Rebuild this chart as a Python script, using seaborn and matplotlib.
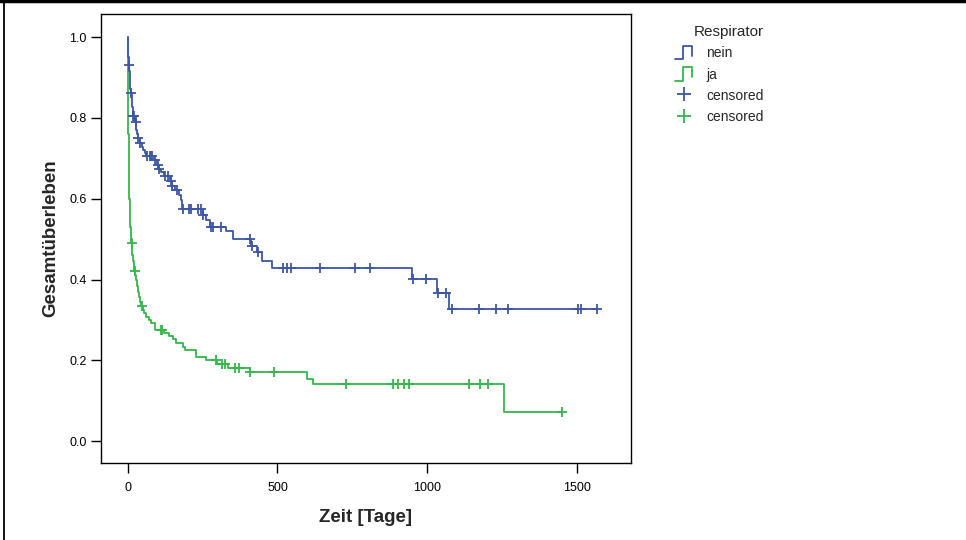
import numpy as np
import pandas as pd
import matplotlib
matplotlib.use("Agg")
import matplotlib.pyplot as plt
import seaborn as sns
from matplotlib.lines import Line2D
from matplotlib.legend_handler import HandlerBase

# ---------------- data ----------------
nein_times = [0, 0.2, 0.5, 1, 1.5, 2, 2.5, 4, 5.5, 7, 8.5, 10, 12, 13.5, 15, 16.5, 18,
              24, 28, 31, 33, 40, 46, 52, 58, 62, 88, 97, 104, 112, 120, 140, 146, 158,
              170, 176, 182, 250, 262, 274, 328, 351, 410, 431, 448, 482, 950, 1033, 1074]
nein_surv = [1.0, 0.99, 0.98, 0.965, 0.95, 0.94, 0.93, 0.915, 0.90, 0.885, 0.872, 0.861,
             0.85, 0.84, 0.826, 0.815, 0.804, 0.79, 0.77, 0.76, 0.75, 0.738, 0.728, 0.72,
             0.712, 0.705, 0.695, 0.683, 0.673, 0.665, 0.656, 0.645, 0.631, 0.621, 0.61,
             0.597, 0.574, 0.559, 0.547, 0.530, 0.52, 0.50, 0.484, 0.468, 0.446, 0.428,
             0.401, 0.366, 0.327]
nein_censored = [3, 10.5, 18.5, 22, 26, 34, 41, 63, 73, 77, 80, 89, 99, 105, 124, 134, 143,
                 148, 163, 184, 204, 211, 234, 244, 252, 278, 284, 311, 408, 415, 435, 518,
                 532, 545, 642, 759, 809, 952, 997, 1037, 1064, 1084, 1174, 1231, 1271,
                 1505, 1515, 1569]

ja_times = [0, 0.3, 0.6, 1, 1.5, 2, 3, 4, 5, 6, 7, 8, 9, 11, 13, 15, 17, 19, 22, 25, 28,
            31, 34, 37, 40, 45, 50, 55, 62, 70, 78, 89, 122, 137, 151, 162, 184, 190, 227,
            262, 298, 336, 408, 600, 618, 1259]
ja_surv = [1.0, 0.93, 0.88, 0.82, 0.76, 0.71, 0.67, 0.63, 0.60, 0.57, 0.55, 0.53, 0.51,
           0.49, 0.475, 0.46, 0.445, 0.43, 0.42, 0.41, 0.399, 0.385, 0.37, 0.357, 0.345,
           0.335, 0.325, 0.316, 0.308, 0.30, 0.293, 0.276, 0.267, 0.26, 0.252, 0.243,
           0.233, 0.225, 0.209, 0.20, 0.192, 0.181, 0.172, 0.155, 0.142, 0.071]
ja_censored = [12, 23, 46, 110, 113, 294, 313, 326, 358, 371, 409, 488, 729, 885, 902, 924,
               941, 1142, 1177, 1203, 1452]

group_labels = ["nein", "ja"]
legend_title = "Respirator"
x_ticks = [0, 500, 1000, 1500]
y_ticks = [0.0, 0.2, 0.4, 0.6, 0.8, 1.0]
x_label = "Zeit [Tage]"
y_label = "Gesamtüberleben"

BLUE = "#3d56a6"
GREEN = "#33b84a"

# ---------------- figure ----------------
sns.set_theme(style="white")
plt.rcParams["font.family"] = ["Liberation Sans", "DejaVu Sans"]

fig = plt.figure(figsize=(9.66, 5.40), dpi=100)
ax = fig.add_axes([101 / 966, 1 - 463 / 540, 530 / 966, 449 / 540])


def censor_y(times, surv, cens):
    t = np.asarray(times, dtype=float)
    s = np.asarray(surv, dtype=float)
    idx = np.searchsorted(t, np.asarray(cens, dtype=float), side="right") - 1
    return s[idx]


curves = [
    (group_labels[1], ja_times, ja_surv, ja_censored, GREEN),
    (group_labels[0], nein_times, nein_surv, nein_censored, BLUE),
]
for name, t, s, c, col in curves:
    # the curve runs on flat to the last observed (censored) time
    t_line = list(t) + [max(max(c), t[-1])]
    s_line = list(s) + [s[-1]]
    df = pd.DataFrame({"t": t_line, "s": s_line})
    sns.lineplot(data=df, x="t", y="s", ax=ax, color=col, linewidth=1.3,
                 drawstyle="steps-post", sort=False, estimator=None)
    cdf = pd.DataFrame({"t": c, "s": censor_y(t, s, c)})
    sns.scatterplot(data=cdf, x="t", y="s", ax=ax, marker="+", color=col,
                    s=55, linewidth=1.3, zorder=3)

ax.set_xlim(-90, 1682)
ax.set_ylim(-0.054, 1.057)
ax.set_xticks(x_ticks)
ax.set_xticklabels([str(v) for v in x_ticks])
ax.set_yticks(y_ticks)
ax.set_yticklabels([f"{v:.1f}" for v in y_ticks])
ax.tick_params(axis="both", which="major", direction="out", length=7.5, width=1,
               color="black", labelsize=9, labelcolor="black", bottom=True, left=True)
ax.tick_params(axis="x", pad=6)
ax.tick_params(axis="y", pad=3)
for sp in ax.spines.values():
    sp.set_visible(True)
    sp.set_color("black")
    sp.set_linewidth(1.0)
ax.set_xlabel(x_label, fontsize=13.5, fontweight="bold", labelpad=11)
ax.set_ylabel(y_label, fontsize=13.5, fontweight="bold", labelpad=7)


class HandlerStep(HandlerBase):
    def create_artists(self, legend, orig_handle, xdescent, ydescent, width, height,
                       fontsize, trans):
        x0, y0 = -xdescent, -ydescent
        xs = [x0, x0 + 0.45 * width, x0 + 0.45 * width, x0 + width, x0 + width]
        ys = [y0, y0, y0 + height, y0 + height, y0 + 0.25 * height]
        ln = Line2D(xs, ys, color=orig_handle.get_color(), linewidth=1.3,
                    transform=trans)
        return [ln]


h_nein = Line2D([], [], color=BLUE)
h_ja = Line2D([], [], color=GREEN)
h_c1 = Line2D([], [], color=BLUE, marker="+", linestyle="None", markersize=10,
              markeredgewidth=1.3)
h_c2 = Line2D([], [], color=GREEN, marker="+", linestyle="None", markersize=10,
              markeredgewidth=1.3)
leg = ax.legend(handles=[h_nein, h_ja, h_c1, h_c2],
                labels=[group_labels[0], group_labels[1], "censored", "censored"],
                handler_map={h_nein: HandlerStep(), h_ja: HandlerStep()},
                loc="upper left", bbox_to_anchor=(675 / 966, 1 - 25 / 540),
                bbox_transform=fig.transFigure, frameon=False, fontsize=10,
                title=legend_title, title_fontsize=11, handlelength=1.25,
                handleheight=1.1, handletextpad=1.0, labelspacing=0.5,
                borderpad=0.0, borderaxespad=0.0, alignment="right")

# outer frame lines (top and left) as in the reference
fig.add_artist(Line2D([0, 1], [1 - 1 / 540, 1 - 1 / 540], transform=fig.transFigure,
                      color="black", linewidth=2.5))
fig.add_artist(Line2D([3.5 / 966, 3.5 / 966], [0, 1], transform=fig.transFigure,
                      color="black", linewidth=1.3))

fig.savefig("out.png", dpi=100)
